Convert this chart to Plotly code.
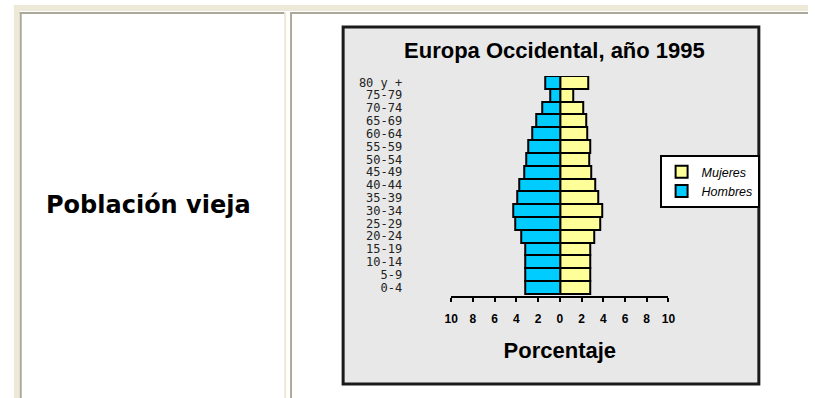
import plotly.graph_objects as go

W, H = 815, 398

age_groups = ["0-4", "5-9", "10-14", "15-19", "20-24", "25-29", "30-34", "35-39",
              "40-44", "45-49", "50-54", "55-59", "60-64", "65-69", "70-74", "75-79", "80 y +"]
hombres = [3.2, 3.2, 3.2, 3.2, 3.6, 4.1, 4.25, 3.9, 3.7, 3.3, 3.1, 2.9, 2.55, 2.2, 1.65, 0.9, 1.3]
mujeres = [2.8, 2.8, 2.8, 2.8, 3.15, 3.75, 3.9, 3.5, 3.3, 2.9, 2.7, 2.8, 2.55, 2.4, 2.2, 1.25, 2.6]
xticks = [-10, -8, -6, -4, -2, 0, 2, 4, 6, 8, 10]
xticklabels = ["10", "8", "6", "4", "2", "0", "2", "4", "6", "8", "10"]

title_text = "Europa Occidental, año 1995"
xaxis_title = "Porcentaje"
cell_label = "Población vieja"

def X(px):
    return px / W

def Y(py):
    return 1 - py / H

BEIGE = "#ECE9D8"
GRAY = "#ACA899"

shapes = []
def rect(x0, y0, x1, y1, fill, line_color=None, lw=0):
    shapes.append(dict(type="rect", xref="paper", yref="paper",
                       x0=X(x0), x1=X(x1), y0=Y(y1), y1=Y(y0),
                       fillcolor=fill, layer="below",
                       line=dict(color=line_color or fill, width=lw)))

# page/table borders
rect(7, 5, W, 11, BEIGE)
rect(7, 5, 13, H, BEIGE)
rect(13, 12, 283, 14, GRAY)
rect(13, 12, 15, H, GRAY)
rect(282, 12, 284, H, BEIGE)
rect(288, 12, W, 14, GRAY)
rect(288, 12, 290, H, GRAY)
# chart frame
rect(342, 27, 765, 384, "#E8E8E8", "#1a1a1a", 3)

fig = go.Figure()
fig.add_trace(go.Bar(y=age_groups, x=mujeres, orientation="h", name="Mujeres",
                     marker=dict(color="#FFFF99", line=dict(color="#000000", width=2))))
fig.add_trace(go.Bar(y=age_groups, x=[-v for v in hombres], orientation="h", name="Hombres",
                     marker=dict(color="#00CCFF", line=dict(color="#000000", width=2))))

fig.update_layout(
    width=W, height=H,
    margin=dict(l=0, r=0, t=0, b=0),
    paper_bgcolor="white", plot_bgcolor="rgba(0,0,0,0)",
    barmode="overlay", bargap=0,
    shapes=shapes,
    title=dict(text=title_text, x=X(557), y=Y(50), xanchor="center", yanchor="middle",
               xref="paper", yref="paper",
               font=dict(family="Liberation Sans, Arial", size=22, color="#000000",
                         weight="bold")),
    xaxis=dict(domain=[X(452), X(673)], range=[-10, 10],
               tickvals=xticks, ticktext=xticklabels,
               ticks="outside", ticklen=4, tickwidth=2, tickcolor="#000000",
               showline=True, linecolor="#000000", linewidth=2,
               showgrid=False, zeroline=False, ticklabelstandoff=7,
               tickfont=dict(family="Liberation Sans, Arial", size=12, color="#000000",
                             weight="bold"),
               title=dict(text=xaxis_title, standoff=17,
                          font=dict(family="Liberation Sans, Arial", size=22,
                                    color="#000000", weight="bold"))),
    yaxis=dict(domain=[Y(296), Y(76)], range=[-0.66, 16.5],
               type="category", categoryorder="array", categoryarray=age_groups,
               tickmode="linear", dtick=1, tick0=0,
               showline=False, showgrid=False, zeroline=False, ticks="",
               ticklabelstandoff=48,
               tickfont=dict(family="DejaVu Sans Mono", size=12, color="#222222")),
    legend=dict(x=X(664), y=Y(155), xanchor="left", yanchor="top",
                bgcolor="#FFFFFF", bordercolor="#000000", borderwidth=2,
                traceorder="normal", tracegroupgap=0, itemwidth=30,
                font=dict(family="Liberation Sans, Arial", size=12.5, color="#000000",
                          style="italic")),
    annotations=[dict(text=cell_label, x=X(144), y=Y(205), xref="paper", yref="paper",
                      showarrow=False, xanchor="center", yanchor="middle",
                      font=dict(family="DejaVu Sans", size=24, color="#000000",
                                weight="bold"))],
)

fig.write_html("out.html")
